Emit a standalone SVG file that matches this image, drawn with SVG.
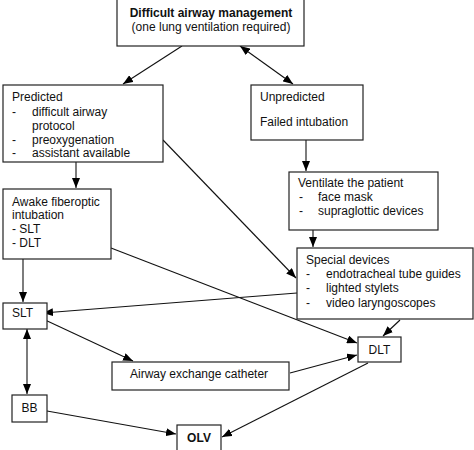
<svg xmlns="http://www.w3.org/2000/svg" width="474" height="450" viewBox="0 0 474 450">
<defs>
<marker id="ah" markerWidth="10" markerHeight="8" refX="10" refY="4" orient="auto-start-reverse" markerUnits="userSpaceOnUse">
<path d="M0,0 L10,4 L0,8 z" fill="#000"/>
</marker>
<style>
rect{fill:#fff;stroke:#222;stroke-width:1.2}
text{font-family:"Liberation Sans",Arial,sans-serif;font-size:12px;fill:#111}
.b{font-weight:bold}
#connectors line{stroke:#111;stroke-width:1.1;fill:none}
</style>
</defs>
<rect x="0" y="0" width="474" height="450" style="fill:#fff;stroke:none"/>
<g id="connectors">
<line x1="182" y1="46" x2="123" y2="84" marker-end="url(#ah)"/>
<line x1="240" y1="46" x2="293" y2="84" marker-start="url(#ah)" marker-end="url(#ah)"/>
<line x1="76" y1="162" x2="76" y2="188" marker-end="url(#ah)"/>
<line x1="306" y1="140" x2="306" y2="171" marker-end="url(#ah)"/>
<line x1="313" y1="230" x2="313" y2="247" marker-end="url(#ah)"/>
<line x1="163" y1="140" x2="296" y2="278" marker-end="url(#ah)"/>
<line x1="111" y1="248" x2="357" y2="343" marker-end="url(#ah)"/>
<line x1="297" y1="293" x2="43" y2="313" marker-end="url(#ah)"/>
<line x1="23" y1="259" x2="23" y2="302" marker-end="url(#ah)"/>
<line x1="27" y1="329" x2="27" y2="394" marker-start="url(#ah)" marker-end="url(#ah)"/>
<line x1="43" y1="319" x2="133" y2="361" marker-end="url(#ah)"/>
<line x1="47" y1="411" x2="176" y2="434" marker-end="url(#ah)"/>
<line x1="400" y1="320" x2="383" y2="336" marker-end="url(#ah)"/>
<line x1="290" y1="373" x2="357" y2="355" marker-end="url(#ah)"/>
<line x1="368" y1="363" x2="222" y2="437" marker-end="url(#ah)"/>
</g>
<g id="top">
<rect x="117" y="-5" width="187" height="51"/>
<text x="211" y="17" text-anchor="middle" class="b">Difficult airway management</text>
<text x="211" y="31" text-anchor="middle">(one lung ventilation required)</text>
</g>
<g id="predicted">
<rect x="3" y="85" width="160" height="77"/>
<text x="12" y="101">Predicted</text>
<text x="12" y="116">-</text><text x="32" y="116">difficult airway</text>
<text x="32" y="130">protocol</text>
<text x="12" y="144">-</text><text x="32" y="144">preoxygenation</text>
<text x="12" y="157">-</text><text x="32" y="157">assistant available</text>
</g>
<g id="unpredicted">
<rect x="251" y="85" width="112" height="55"/>
<text x="260" y="101">Unpredicted</text>
<text x="260" y="126">Failed intubation</text>
</g>
<g id="ventilate">
<rect x="289" y="172" width="149" height="58"/>
<text x="298" y="187">Ventilate the patient</text>
<text x="299" y="201">-</text><text x="318" y="201">face mask</text>
<text x="299" y="215">-</text><text x="318" y="215">supraglottic devices</text>
</g>
<g id="special">
<rect x="297" y="248" width="176" height="71"/>
<text x="306" y="264">Special devices</text>
<text x="306" y="278">-</text><text x="326" y="278">endotracheal tube guides</text>
<text x="306" y="292">-</text><text x="326" y="292">lighted stylets</text>
<text x="306" y="307">-</text><text x="326" y="307">video laryngoscopes</text>
</g>
<g id="awake">
<rect x="3" y="189" width="108" height="70"/>
<text x="12" y="206">Awake fiberoptic</text>
<text x="12" y="219">intubation</text>
<text x="12" y="233">- SLT</text>
<text x="12" y="247">- DLT</text>
</g>
<g id="slt">
<rect x="3" y="303" width="44" height="26"/>
<text x="12" y="317">SLT</text>
</g>
<g id="dlt">
<rect x="358" y="337" width="43" height="25"/>
<text x="379.5" y="354" text-anchor="middle">DLT</text>
</g>
<g id="aec">
<rect x="112" y="362" width="177" height="28"/>
<text x="130" y="378">Airway exchange catheter</text>
</g>
<g id="bb">
<rect x="12" y="395" width="35" height="27"/>
<text x="29.5" y="412" text-anchor="middle">BB</text>
</g>
<g id="olv">
<rect x="177" y="425" width="44" height="30"/>
<text x="199" y="442" text-anchor="middle" class="b">OLV</text>
</g>
</svg>
